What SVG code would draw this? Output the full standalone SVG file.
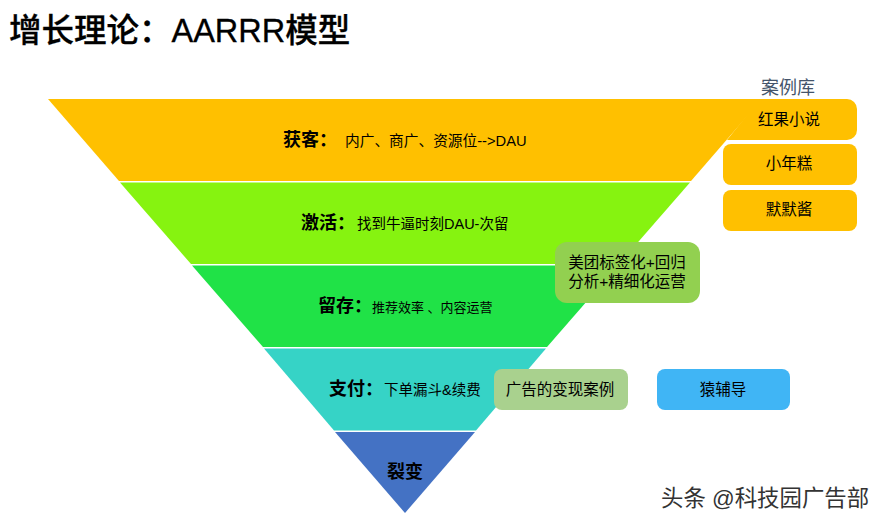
<svg xmlns="http://www.w3.org/2000/svg" width="883" height="525" viewBox="0 0 883 525">
<style>
text{font-family:"Liberation Sans","Noto Sans CJK SC",sans-serif;fill:#000}
.h{font-size:18px;font-weight:700}
.d{font-size:14.5px}
.b{font-size:15.5px;text-anchor:middle}
.o{fill:#ffc000}
</style>
<rect width="883" height="525" fill="#fff"/>
<text x="9" y="42" font-size="32.500" font-weight="500" stroke="#000" stroke-width="0.3">增长理论：AARRR模型</text>
<g id="band-acquire">
<polygon class="o" points="48,99 762,99 691,181 119,181"/>
<text class="h" x="283" y="146">获客：</text>
<text class="d" x="345" y="146" style="font-size:14.700px">内广、商广、资源位--&gt;DAU</text>
</g>
<g id="band-activate">
<polygon fill="#86f310" points="120,182.500 690,182.500 619,264 191,264"/>
<text class="h" x="301" y="229">激活：</text>
<text class="d" x="357" y="229">找到牛逼时刻DAU-次留</text>
</g>
<g id="band-retain">
<polygon fill="#20e247" points="192,265.500 618,265.500 547,347 263,347"/>
<text class="h" x="318" y="312">留存：</text>
<text class="d" x="372" y="312" style="font-size:13px">推荐效率 、内容运营</text>
</g>
<g id="band-pay">
<polygon fill="#36d3c6" points="264,348.500 546,348.500 476,430.500 334,430.500"/>
<text class="h" x="329" y="395">支付：</text>
<text class="d" x="384" y="395">下单漏斗&amp;续费</text>
</g>
<g id="band-referral">
<polygon fill="#4472c4" points="335,432 475,432 405,513"/>
<text class="h" x="387" y="478">裂变</text>
</g>
<text x="788" y="94" font-size="18" text-anchor="middle" style="fill:#44546a">案例库</text>
<g id="case-novel"><path class="o" d="M700,99H847a10,10 0 0 1 10,10V130a10,10 0 0 1 -10,10H727L760,99Z"/><text class="b" x="789" y="125">红果小说</text></g>
<g id="case-cake"><rect class="o" x="723" y="144" width="134" height="41" rx="8"/><text class="b" x="789" y="169">小年糕</text></g>
<g id="case-mo"><rect class="o" x="723" y="190" width="134" height="41" rx="8"/><text class="b" x="789" y="215">默默酱</text></g>
<g id="case-meituan"><rect x="555" y="242" width="145" height="61" rx="12" fill="#92d050"/><text class="b" x="627" y="268">美团标签化+回归</text><text class="b" x="627" y="287">分析+精细化运营</text></g>
<g id="case-ads"><rect x="494" y="369" width="134" height="41" rx="8" fill="#a9d18e"/><text class="b" x="560" y="395">广告的变现案例</text></g>
<g id="case-ape"><rect x="657" y="369" width="133" height="41" rx="8" fill="#40b5f5"/><text class="b" x="723" y="395">猿辅导</text></g>
<text x="661" y="506" font-size="22.400" style="fill:#333">头条 @科技园广告部</text>
</svg>
